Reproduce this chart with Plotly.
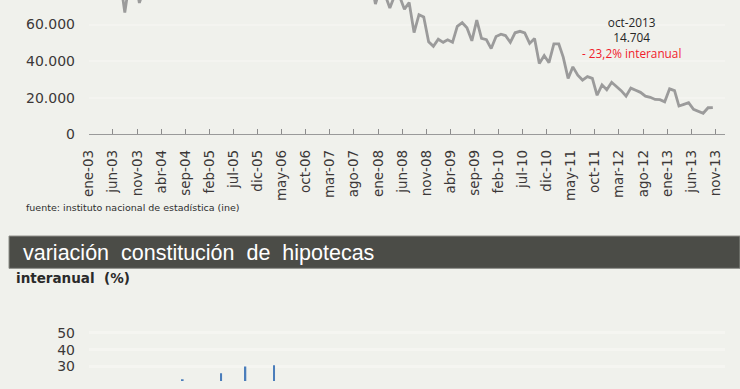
import plotly.graph_objects as go

# ---------------- data ----------------
first_month = "2003-01"
hipotecas = [
    82000, 79000, 84000, 81000, 88000, 90000, 86000, 66500, 85000, 87000, 71800, 79000,   # 2003
    88000, 86000, 92000, 90000, 95000, 98000, 101000, 80000, 94000, 96000, 92000, 97000,  # 2004
    97000, 99000, 100000, 104000, 108000, 112000, 109000, 92000, 104000, 107000, 110000, 115000,  # 2005
    110000, 112000, 118000, 105000, 120000, 124000, 119000, 99000, 112000, 113000, 108000, 115000,  # 2006
    108000, 106000, 110000, 98000, 107000, 104000, 101000, 86000, 92000, 94000, 85000, 71200,  # 2007
    80000, 76000, 69000, 76000, 75500, 68400, 72000, 55600, 65400, 64200, 50600, 48100,   # 2008
    52000, 50300, 51700, 50300, 59000, 61000, 58300, 51100, 62400, 52400, 51700, 46900,   # 2009
    53500, 54700, 54000, 50300, 55500, 56300, 55500, 49700, 52400, 38700, 43100, 39200,   # 2010
    49400, 49400, 42200, 30600, 36900, 32400, 29700, 31600, 30600, 21400, 27100, 24400,   # 2011
    28500, 26200, 23900, 20900, 25300, 24100, 23000, 20900, 20300, 19100, 19000, 17800,   # 2012
    24900, 23900, 15500, 16400, 17300, 13700, 12800, 11600, 14600, 14704,                 # 2013
]
tick_labels = ["ene-03", "jun-03", "nov-03", "abr-04", "sep-04", "feb-05", "jul-05", "dic-05",
               "may-06", "oct-06", "mar-07", "ago-07", "ene-08", "jun-08", "nov-08", "abr-09",
               "sep-09", "feb-10", "jul-10", "dic-10", "may-11", "oct-11", "mar-12", "ago-12",
               "ene-13", "jun-13", "nov-13"]
y_ticks_top = [0, 20000, 40000, 60000]

var_months = ["2004-08", "2005-04", "2005-09", "2006-03"]
var_values = [22.5, 26.0, 30.0, 30.8]
y_ticks_bottom = [30, 40, 50]

last_label = "oct-2013"
last_value = "14.704"
last_change = "- 23,2% interanual"
source_text = "fuente: instituto nacional de estadística (ine)"
header_text = "variación\u00a0 constitución\u00a0 de\u00a0 hipotecas"
sub_title = "interanual\u00a0 (%)"

# ---------------- helpers ----------------
meses = ["ene", "feb", "mar", "abr", "may", "jun", "jul", "ago", "sep", "oct", "nov", "dic"]
y0, m0 = map(int, first_month.split("-"))
def month_mid(k):
    y = y0 + (m0 - 1 + k) // 12
    m = (m0 - 1 + k) % 12 + 1
    return f"{y}-{m:02d}-15"
x_dates = [month_mid(k) for k in range(len(hipotecas))]
tick_vals = []
for lab in tick_labels:
    mm, yy = lab.split("-")
    tick_vals.append(f"20{yy}-{meses.index(mm) + 1:02d}-01")
bar_dates = [m + "-15" for m in var_months]

W, H = 740, 389
BG = "#f0f1ec"
TXT = "#3c3838"
FONT = "DejaVu Sans"

fig = go.Figure()
fig.add_trace(go.Scatter(x=x_dates, y=hipotecas, mode="lines",
                         line=dict(color="#9b9b9b", width=2.8), xaxis="x", yaxis="y",
                         showlegend=False, hoverinfo="skip"))
fig.add_trace(go.Bar(x=bar_dates, y=var_values, marker=dict(color="#4a7dbb", line=dict(width=0)),
                     width=0.35 * 30.4 * 86400000, base=0, xaxis="x2", yaxis="y2",
                     showlegend=False, hoverinfo="skip"))

xdom = [81 / W, 725 / W]
xrange_ = ["2003-01-01", "2014-01-01"]

callout = (f"<span style='color:#262626'>{last_label}</span><br>"
           f"<span style='color:#262626'>{last_value}</span><br>"
           f"<span style='color:#f01c2c'>{last_change}</span>")

fig.update_layout(
    width=W, height=H, margin=dict(l=0, r=0, t=0, b=0),
    paper_bgcolor=BG, plot_bgcolor=BG, separators=",.",
    xaxis=dict(type="date", domain=xdom, range=xrange_, anchor="y",
               tickmode="array", tickvals=tick_vals, ticktext=tick_labels, tickangle=-90,
               ticks="inside", ticklen=5, tickcolor="#8c8c8c", tickwidth=1,
               showline=True, linecolor="#9a9a9a", linewidth=1, showgrid=False, zeroline=False,
               ticklabelstandoff=9, tickfont=dict(family=FONT, size=13.5, color=TXT)),
    yaxis=dict(domain=[1 - 137.3 / H, 1], range=[0, 73400], anchor="x",
               tickmode="array", tickvals=y_ticks_top, tickformat=",d",
               showgrid=True, gridcolor="#f4f4f0", gridwidth=2, zeroline=False, showline=False,
               ticks="", ticklabelstandoff=13, tickfont=dict(family=FONT, size=14, color=TXT)),
    xaxis2=dict(type="date", domain=xdom, range=xrange_, anchor="y2", visible=False),
    yaxis2=dict(domain=[0, 66.3 / H], range=[21.45, 60], anchor="x2",
                tickmode="array", tickvals=y_ticks_bottom,
                showgrid=True, gridcolor="#f5f5f1", gridwidth=3, zeroline=False, showline=False,
                ticks="", ticklabelstandoff=13, tickfont=dict(family=FONT, size=14, color=TXT)),
    shapes=[dict(type="rect", xref="paper", yref="paper", x0=0, x1=1,
                 y0=1 - 274 / H, y1=1 - 241 / H, fillcolor="#4b4c47",
                 line=dict(color="#8d8e88", width=1), layer="above")],
    annotations=[
        dict(text=callout, x=630 / W, y=1 - 38.5 / H, xref="paper", yref="paper",
             showarrow=False, xanchor="center", yanchor="middle", align="center",
             font=dict(family="Open Sans", size=11.8, color="#262626")),
        dict(text=source_text, x=15 / W, y=1 - 212 / H, xref="paper", yref="paper",
             showarrow=False, xanchor="left", yanchor="middle",
             font=dict(family=FONT, size=9.5, color="#2e2e2e")),
        dict(text=header_text, x=12 / W, y=1 - 258.5 / H, xref="paper", yref="paper",
             showarrow=False, xanchor="left", yanchor="middle",
             font=dict(family="Liberation Sans", size=21.5, color="#ffffff")),
        dict(text="<b>" + sub_title + "</b>", x=5 / W, y=1 - 283.5 / H, xref="paper", yref="paper",
             showarrow=False, xanchor="left", yanchor="middle",
             font=dict(family=FONT, size=13.5, color="#2a2a2a")),
    ],
)

fig.write_html("out.html")
